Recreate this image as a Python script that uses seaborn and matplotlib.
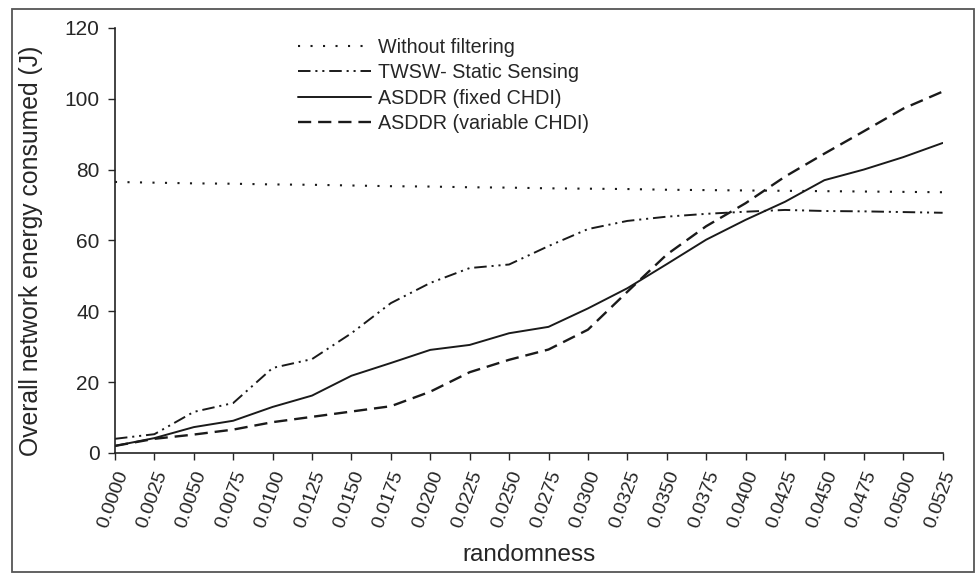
import matplotlib
matplotlib.use("Agg")
import matplotlib.pyplot as plt
from matplotlib.lines import Line2D
import pandas as pd
import seaborn as sns

# Randomness levels (categorical x axis)
randomness = ["0.0000", "0.0025", "0.0050", "0.0075", "0.0100", "0.0125",
              "0.0150", "0.0175", "0.0200", "0.0225", "0.0250", "0.0275",
              "0.0300", "0.0325", "0.0350", "0.0375", "0.0400", "0.0425",
              "0.0450", "0.0475", "0.0500", "0.0525"]

# Overall network energy consumed (J) per scheme
without_filtering = [76.5, 76.3, 76.1, 76.0, 75.8, 75.7, 75.5, 75.3, 75.2, 75.0, 74.9,
                     74.7, 74.6, 74.5, 74.3, 74.2, 74.1, 74.0, 73.9, 73.8, 73.7, 73.6]
twsw_static = [4.0, 5.3, 11.6, 14.1, 24.0, 26.5, 33.8, 42.3, 48.0, 52.2, 53.2,
               58.4, 63.2, 65.5, 66.7, 67.5, 68.1, 68.6, 68.3, 68.2, 68.0, 67.8]
asddr_fixed = [2.0, 4.2, 7.3, 9.1, 13.0, 16.2, 21.8, 25.4, 29.1, 30.5, 33.8,
               35.6, 40.8, 46.5, 53.3, 60.2, 65.8, 70.9, 77.0, 80.0, 83.5, 87.5]
asddr_variable = [2.0, 4.0, 5.2, 6.6, 8.7, 10.2, 11.7, 13.2, 17.3, 22.8, 26.3,
                  29.2, 34.8, 45.5, 56.0, 64.0, 70.5, 78.0, 84.5, 90.8, 97.2, 102.0]

series_names = ["Without filtering", "TWSW- Static Sensing",
                "ASDDR (fixed CHDI)", "ASDDR (variable CHDI)"]
series_values = [without_filtering, twsw_static, asddr_fixed, asddr_variable]

frames = []
for name, vals in zip(series_names, series_values):
    frames.append(pd.DataFrame({"randomness": randomness, "energy": vals, "scheme": name}))
df = pd.concat(frames, ignore_index=True)

plt.rcParams["lines.scale_dashes"] = False
sns.set_style("ticks")
plt.rcParams["font.family"] = ["Liberation Sans", "DejaVu Sans"]

dash_styles = {
    "Without filtering": (1.5, 7.5),
    "TWSW- Static Sensing": (9.0, 3.5, 1.5, 3.5, 1.5, 3.5),
    "ASDDR (fixed CHDI)": "",
    "ASDDR (variable CHDI)": (9.5, 5.0),
}
line_widths = {
    "Without filtering": 1.5,
    "TWSW- Static Sensing": 1.4,
    "ASDDR (fixed CHDI)": 1.4,
    "ASDDR (variable CHDI)": 1.7,
}

fig = plt.figure(figsize=(9.76, 5.8), dpi=100)
ax = fig.add_axes([0.1178, 0.219, 0.848, 0.733])

sns.lineplot(data=df, x="randomness", y="energy", style="scheme",
             style_order=series_names, dashes=dash_styles, color="black",
             linewidth=1.4, sort=False, ax=ax, legend=True)

for line, name in zip(ax.get_lines(), series_names):
    line.set_color("#1a1a1a")
    line.set_linewidth(line_widths[name])

ax.set_xlim(0, len(randomness) - 1)
ax.set_ylim(0, 120)
ax.set_yticks(range(0, 121, 20))
ax.set_xticks(range(len(randomness)))
ax.set_xticklabels(randomness, rotation=70, ha="right", va="top",
                   rotation_mode="anchor", fontsize=14)
ax.tick_params(axis="y", labelsize=15, length=5, width=1, direction="out", pad=6)
ax.tick_params(axis="x", length=5, width=1, direction="out", pad=6)
for s in ["top", "right"]:
    ax.spines[s].set_visible(False)
for s in ["left", "bottom"]:
    ax.spines[s].set_linewidth(1.2)
    ax.spines[s].set_color("#222222")

ax.set_xlabel("randomness", fontsize=17.5, labelpad=10)
ax.set_ylabel("Overall network energy consumed (J)", fontsize=17.8)
ax.yaxis.set_label_coords(-0.087, 0.475)

handles = []
for name in series_names:
    d = dash_styles[name]
    h = Line2D([], [], color="#1a1a1a", linewidth=line_widths[name])
    if d:
        h.set_dashes(d)
    handles.append(h)
ax.get_legend().remove()
fig.legend(handles, series_names, loc="upper left",
           bbox_to_anchor=(298 / 976, 1 - 38 / 580), frameon=False,
           fontsize=14.2, handlelength=3.7, handletextpad=0.35,
           labelspacing=0.32, borderpad=0, borderaxespad=0)

# page border around the figure
fig.add_artist(plt.Rectangle((12 / 976, 8 / 580), 962 / 976, 563 / 580,
                             transform=fig.transFigure, fill=False,
                             edgecolor="#555555", linewidth=1.3))

fig.savefig("out.png", dpi=100)
